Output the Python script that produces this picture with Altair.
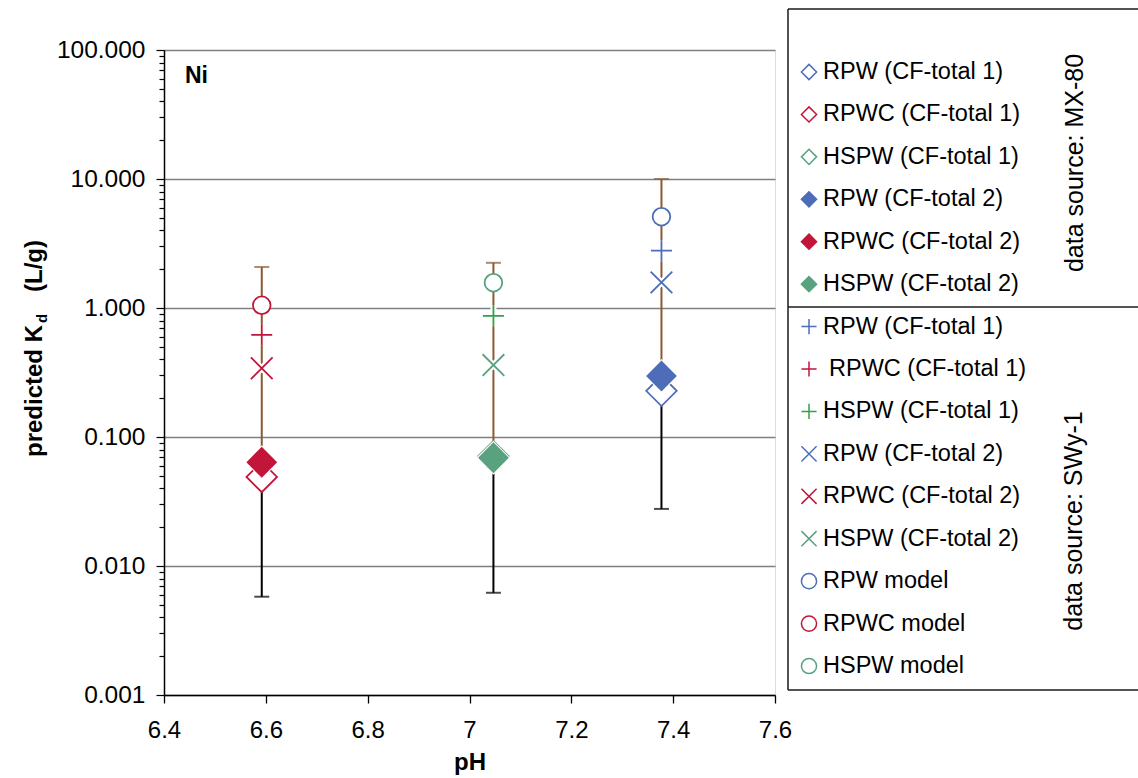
import altair as alt
import pandas as pd

# ---------------- data ----------------
waters = ["RPW", "RPWC", "HSPW"]
ph = [7.377, 6.592, 7.047]
mx_cf1 = [0.228, 0.049, 0.071]      # MX-80, CF-total 1 (open diamonds)
mx_cf2 = [0.297, 0.0637, 0.069]     # MX-80, CF-total 2 (filled diamonds)
swy_cf1 = [2.78, 0.62, 0.87]        # SWy-1, CF-total 1 (plus)
swy_cf2 = [1.58, 0.341, 0.361]      # SWy-1, CF-total 2 (cross)
model = [5.1, 1.05, 1.57]           # model (circles)
brown_low = [0.25, 0.056, 0.0585]
brown_high = [10.0, 2.08, 2.24]
black_low = [0.0277, 0.00578, 0.0062]

legend_labels = [
    "RPW (CF-total 1)", "RPWC (CF-total 1)", "HSPW (CF-total 1)",
    "RPW (CF-total 2)", "RPWC (CF-total 2)", "HSPW (CF-total 2)",
    "RPW (CF-total 1)", "RPWC (CF-total 1)", "HSPW (CF-total 1)",
    "RPW (CF-total 2)", "RPWC (CF-total 2)", "HSPW (CF-total 2)",
    "RPW model", "RPWC model", "HSPW model",
]
x_ticks = [6.4, 6.6, 6.8, 7.0, 7.2, 7.4, 7.6]
y_major = [0.001, 0.01, 0.1, 1, 10, 100]
y_minor = [round(k * 10.0 ** e, 6) for e in range(-3, 2) for k in range(2, 10)]

# ---------------- styles ----------------
FONT = "Liberation Sans"
BLUE = "#4E6DB8"
RED = "#C1163A"
GREEN = "#58A27F"
GREEN_PLUS = "#33A047"
BROWN = "#8B5A32"
PLUS = "M-1,0H1M0,-1V1"
CROSS = "M-1,-1L1,1M-1,1L1,-1"

groups = [mx_cf1, mx_cf2, swy_cf1, swy_cf2, model]
group_shapes = ["diamond", "diamond", PLUS, CROSS, "circle"]
group_sizes = [930, 800, 441, 470, 310]
group_strokes = [
    [BLUE, RED, GREEN], [BLUE, RED, GREEN], [BLUE, RED, GREEN_PLUS],
    [BLUE, RED, GREEN], [BLUE, RED, GREEN],
]
group_fills = [
    ["white"] * 3, [BLUE, RED, GREEN], ["transparent"] * 3,
    ["transparent"] * 3, ["white"] * 3,
]

keys = [f"{i:02d}|{lab}" for i, lab in enumerate(legend_labels)]
rows = []
shape_range, size_range, stroke_range, fill_range = [], [], [], []
for g, vals in enumerate(groups):
    for w in range(3):
        k = keys[g * 3 + w]
        rows.append({"key": k, "ph": ph[w], "value": vals[w], "grp": g})
        shape_range.append(group_shapes[g])
        size_range.append(group_sizes[g])
        stroke_range.append(group_strokes[g][w])
        fill_range.append(group_fills[g][w])
pts = pd.DataFrame(rows)

err = pd.DataFrame({
    "ph": ph, "brown_low": brown_low, "brown_high": brown_high,
    "black_low": black_low, "black_high": mx_cf2,
})

# legend rows (layout positions computed here, in pixels)
ROW_Y0, ROW_STEP = 22.0, 42.43
leg = pd.DataFrame({
    "key": keys, "label": legend_labels,
    "ypix": [ROW_Y0 + i * ROW_STEP for i in range(len(keys))],
    "xpix": [665 if i == 7 else 659 for i in range(len(keys))],
})

major_test = "abs(log(datum.value)/LN10 - round(log(datum.value)/LN10)) < 0.001"

xscale = alt.Scale(domain=[6.4, 7.6], nice=False, zero=False)
yscale = alt.Scale(type="log", domain=[0.001, 100], nice=False)

xaxis = alt.Axis(
    values=x_ticks, format=".1~f", title="pH", grid=False,
    labelFont=FONT, labelFontSize=24, labelColor="black", labelPadding=15,
    titleFont=FONT, titleFontSize=24, titleFontWeight="bold", titleColor="black",
    titlePadding=8, tickSize=8, tickColor="black", tickWidth=1.3,
    domainColor="black", domainWidth=1.5, labelFlush=False, labelOverlap=False,
)
yaxis = alt.Axis(
    values=y_major + y_minor, title=None,
    labelExpr=f"({major_test}) ? format(datum.value, '.3f') : ''",
    grid=True, gridColor="#7f7f7f", gridWidth=1.3,
    gridOpacity={"condition": {"test": major_test, "value": 1}, "value": 0},
    tickSize={"condition": {"test": major_test, "value": 8}, "value": 5},
    tickColor="black", tickWidth=1.2, domainColor="black", domainWidth=1.5,
    labelFont=FONT, labelFontSize=24.5, labelColor="black", labelPadding=11,
    labelOverlap=False, labelFlush=False, labelBound=False,
)


def X(f):
    return alt.X(f"{f}:Q", scale=xscale, axis=xaxis)


def Y(f):
    return alt.Y(f"{f}:Q", scale=yscale, axis=yaxis)


shape_enc = alt.Shape("key:N", scale=alt.Scale(domain=keys, range=shape_range), legend=None)
stroke_enc = alt.Stroke("key:N", scale=alt.Scale(domain=keys, range=stroke_range), legend=None)
fill_enc = alt.Fill("key:N", scale=alt.Scale(domain=keys, range=fill_range), legend=None)
size_enc = alt.Size("key:N", scale=alt.Scale(type="ordinal", domain=keys, range=size_range), legend=None)

black_rule = alt.Chart(err).mark_rule(color="black", strokeWidth=2).encode(
    x=X("ph"), y=Y("black_low"), y2="black_high:Q")
brown_rule = alt.Chart(err).mark_rule(color=BROWN, strokeWidth=2).encode(
    x=X("ph"), y=Y("brown_low"), y2="brown_high:Q")
black_cap = alt.Chart(err).mark_tick(orient="horizontal", size=15, thickness=2, color="black").encode(
    x=X("ph"), y=Y("black_low"))
brown_cap_lo = alt.Chart(err).mark_tick(orient="horizontal", size=15, thickness=2, color=BROWN).encode(
    x=X("ph"), y=Y("brown_low"))
brown_cap_hi = alt.Chart(err).mark_tick(orient="horizontal", size=15, thickness=2, color=BROWN).encode(
    x=X("ph"), y=Y("brown_high"))

halo_plus = alt.Chart(pts).transform_filter("datum.grp == 2").mark_point(
    shape=PLUS, size=441, stroke="white", strokeWidth=6, opacity=1, fill="transparent").encode(
    x=X("ph"), y=Y("value"))
halo_cross = alt.Chart(pts).transform_filter("datum.grp == 3").mark_point(
    shape=CROSS, size=470, stroke="white", strokeWidth=6, opacity=1, fill="transparent").encode(
    x=X("ph"), y=Y("value"))

points_open = alt.Chart(pts).transform_filter("datum.grp == 0").mark_point(strokeWidth=1.8, opacity=1).encode(
    x=X("ph"), y=Y("value"),
    shape=shape_enc, stroke=stroke_enc, fill=fill_enc, size=size_enc,
)
halo_filled = alt.Chart(pts).transform_filter("datum.grp == 1").mark_point(
    shape="diamond", size=800, stroke="white", strokeWidth=4, opacity=1, fill="white").encode(
    x=X("ph"), y=Y("value"))
points_rest = alt.Chart(pts).transform_filter("datum.grp >= 1").mark_point(strokeWidth=1.8, opacity=1).encode(
    x=X("ph"), y=Y("value"),
    shape=shape_enc, stroke=stroke_enc, fill=fill_enc, size=size_enc,
)

leg_symbols = alt.Chart(leg).mark_point(strokeWidth=1.5, opacity=1, size=230).encode(
    x=alt.value(645), y=alt.Y("ypix:Q", scale=None),
    shape=shape_enc, stroke=stroke_enc, fill=fill_enc,
)
leg_labels = alt.Chart(leg).mark_text(
    font=FONT, fontSize=23.5, align="left", baseline="middle", color="black").encode(
    x=alt.X("xpix:Q", scale=None), y=alt.Y("ypix:Q", scale=None), text="label:N")


def txt(s, x, y, size=24, weight="normal", angle=0, align="left", baseline="alphabetic"):
    return alt.Chart(pd.DataFrame({"t": [s]})).mark_text(
        font=FONT, fontSize=size, fontWeight=weight, angle=angle, align=align,
        baseline=baseline, color="black").encode(
        x=alt.value(x), y=alt.value(y), text="t:N")


def line(x1, y1, x2, y2):
    return alt.Chart(pd.DataFrame({"a": [0]})).mark_rule(color="#1a1a1a", strokeWidth=1.5).encode(
        x=alt.value(x1), x2=alt.value(x2), y=alt.value(y1), y2=alt.value(y2))


texts = [
    txt("Ni", 21, 33, size=23, weight="bold"),
    txt("predicted K", -122, 407, weight="bold", angle=270),
    txt("d", -117, 273, size=15, weight="bold", angle=270),
    txt("(L/g)", -122, 242, weight="bold", angle=270),
    txt("data source: MX-80", 919, 113, size=25, angle=270, align="center"),
    txt("data source: SWy-1", 918, 471, size=25, angle=270, align="center"),
]
box = [
    line(624, -41, 980, -41),
    line(624, 640, 980, 640),
    line(624, 257, 980, 257),
    line(624, -41, 624, 640),
]

chart = alt.layer(
    black_rule, brown_rule, black_cap, brown_cap_lo, brown_cap_hi,
    halo_plus, halo_cross, points_open, halo_filled, points_rest,
    leg_symbols, leg_labels, *texts, *box,
).properties(
    width=611, height=645,
    autosize=alt.AutoSizeParams(type="none"),
    padding={"left": 164, "top": 50, "right": 363, "bottom": 83},
).configure_view(stroke="#666666", strokeWidth=1.3).configure(font=FONT)

chart.save("out.html", embed_options={"renderer": "svg", "actions": False})
